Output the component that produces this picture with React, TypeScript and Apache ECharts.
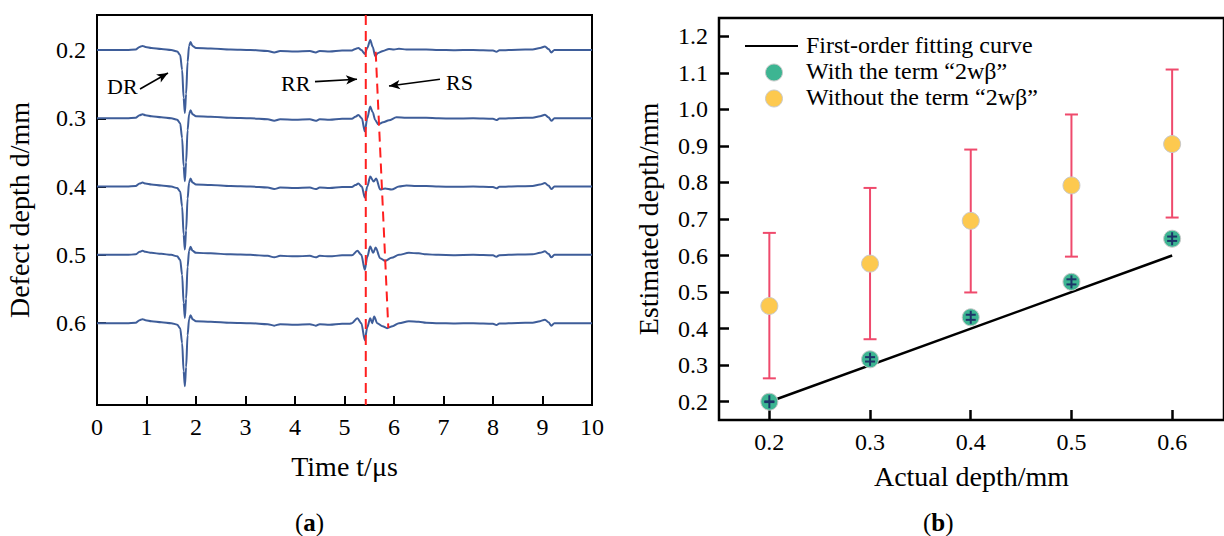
import React, { useEffect, useRef } from "react";
import * as echarts from "echarts";

const FONT = "Liberation Serif, Times New Roman, serif";

// ---------- Panel (a): waveforms ----------
const depths = [0.2, 0.3, 0.4, 0.5, 0.6];
// amplitude in arbitrary units (a.u.), positive = upward; shared direct-wave part
const headT = [0, 0.6, 0.78, 0.86, 0.92, 0.98, 1.1, 1.3, 1.5, 1.62, 1.68, 1.72, 1.75, 1.775, 1.8, 1.83, 1.86, 1.89, 1.93, 2.0, 2.3, 2.7, 3.1, 3.45, 3.58, 3.7, 4.0, 4.3, 4.42, 4.5, 4.7, 4.95, 5.1];
const headA = [0, 0, 0.5, 3, 4, 3, 2, 1, 0, -1.5, -5, -20, -48, -63, -44, -12, 4, 8, 4, 2, 1.5, 0.5, 0, -1, -2.5, -1, -1.5, -1, -2.5, -1, -1.5, -0.5, -0.5];
const tailT = [6.65, 6.9, 7.2, 7.6, 8.0, 8.07, 8.13, 8.5, 8.8, 8.95, 9.05, 9.12, 9.18, 9.24, 9.35, 9.7, 10];
const tailA = [0.5, 0, -0.3, 0, -0.5, -1.8, -0.3, 0.3, 0.5, 2, 3.5, 1, -2.5, 0, 0, 0, 0];
// reflected-wave region, per depth
const mid02T = [5.15, 5.22, 5.28, 5.34, 5.41, 5.46, 5.52, 5.57, 5.62, 5.68, 5.78, 5.9, 6.0, 6.1, 6.25, 6.45];
const mid02A = [-0.5, 1, 2, 0, -4, 2, 10, 3, -6, -3, -1, 1, 0.5, 1.2, 0.5, 0.5];
const mid03T = [5.15, 5.22, 5.28, 5.35, 5.41, 5.46, 5.52, 5.57, 5.62, 5.68, 5.78, 5.9, 6.05, 6.25, 6.45];
const mid03A = [-0.5, 1.5, 3.3, 0, -13, 0, 11.7, 6, -1.7, -6, -4, -2, 1, 0.5, 0.5];
const mid04T = [5.15, 5.22, 5.28, 5.35, 5.41, 5.46, 5.52, 5.59, 5.64, 5.72, 5.82, 5.95, 6.1, 6.25, 6.45];
const mid04A = [-0.5, 1.5, 3, 0, -11, 0, 10, 5, 8, -3, -2, -3, 0, 1, 0.5];
const mid05T = [5.15, 5.26, 5.34, 5.41, 5.46, 5.52, 5.58, 5.63, 5.72, 5.82, 5.95, 6.1, 6.3, 6.5];
const mid05A = [-0.5, 4, 0, -15, -2, 8.3, 2, 7.3, -3.3, -6, -3, 0, 2, 1.5];
const mid06T = [5.15, 5.26, 5.34, 5.41, 5.46, 5.52, 5.56, 5.6, 5.66, 5.77, 5.86, 5.97, 6.1, 6.3, 6.5];
const mid06A = [0, 5, 0, -17, -4, 5, 0, 6.7, 0, -3, -5, -3, 0, 2, 1.5];
const midTs = [mid02T, mid03T, mid04T, mid05T, mid06T];
const midAs = [mid02A, mid03A, mid04A, mid05A, mid06A];
const AMP_TO_MM = 1 / 683;

const timeMin = 0, timeMax = 10;
const depthAxisMin = 0.1488, depthAxisMax = 0.7198;
const depthTicks = [0.2, 0.3, 0.4, 0.5, 0.6];
const rrTime = 5.43;
const rsStart = [5.63, 0.2025];
const rsEnd = [5.885, 0.607];
const arrowDR = [[0.869, 0.2571], [1.434, 0.2337]];
const arrowRR = [[4.404, 0.2464], [5.253, 0.2429]];
const arrowRS = [[6.929, 0.2429], [5.899, 0.2527]];

// ---------- Panel (b): estimation ----------
const actualDepth = [0.2, 0.3, 0.4, 0.5, 0.6];
const withTerm = [0.2, 0.316, 0.431, 0.528, 0.646];
const withTermErr = [0.001, 0.006, 0.007, 0.007, 0.006];
const withoutTerm = [0.462, 0.578, 0.695, 0.792, 0.905];
const withoutTermLow = [0.264, 0.371, 0.499, 0.597, 0.704];
const withoutTermHigh = [0.662, 0.785, 0.89, 0.986, 1.109];
const fitX = [0.2, 0.6];
const fitY = [0.2, 0.6];
const bXTicks = [0.2, 0.3, 0.4, 0.5, 0.6];
const bYTicks = [0.2, 0.3, 0.4, 0.5, 0.6, 0.7, 0.8, 0.9, 1.0, 1.1, 1.2];

const TRACE_COLOR = "#3e5d99";
const GREEN = "#3db592";
const YELLOW = "#fdc94f";
const PINK = "#ef4a6c";
const NAVY = "#1d3568";

export default function App() {
  const ref = useRef<HTMLDivElement>(null);
  useEffect(() => {
    if (!ref.current) return;
    const chart = echarts.init(ref.current, undefined, { renderer: "svg" });

    const traceSeries = depths.map((d, i) => {
      const ts = headT.concat(midTs[i], tailT);
      const as = headA.concat(midAs[i], tailA);
      return {
        type: "line",
        name: "d=" + d,
        xAxisIndex: 0,
        yAxisIndex: 0,
        data: ts.map((t, k) => [t, d - as[k] * AMP_TO_MM]),
        showSymbol: false,
        smooth: 0.3,
        smoothMonotone: "x",
        lineStyle: { color: TRACE_COLOR, width: 2 },
        z: 3,
      };
    });

    const arrowItem = (a: number[][]) => [
      { coord: a[0], symbol: "none" },
      { coord: a[1], symbol: "arrow", symbolSize: [7, 11] },
    ];

    const errRender = (color: string, capHalf: number, stem: number) => (params: any, api: any) => {
      const x = api.value(0);
      const lo = api.value(1);
      const hi = api.value(2);
      const pLo = api.coord([x, lo]);
      const pHi = api.coord([x, hi]);
      const top = Math.min(pHi[1], (pLo[1] + pHi[1]) / 2 - stem);
      const bot = Math.max(pLo[1], (pLo[1] + pHi[1]) / 2 + stem);
      const st = { stroke: color, lineWidth: 2 };
      return {
        type: "group",
        children: [
          { type: "line", shape: { x1: pLo[0], y1: bot, x2: pLo[0], y2: top }, style: st },
          { type: "line", shape: { x1: pHi[0] - capHalf, y1: pHi[1], x2: pHi[0] + capHalf, y2: pHi[1] }, style: st },
          { type: "line", shape: { x1: pLo[0] - capHalf, y1: pLo[1], x2: pLo[0] + capHalf, y2: pLo[1] }, style: st },
        ],
      };
    };

    const axisLabelStyle = { fontFamily: FONT, fontSize: 24, color: "#000" };
    const nameStyle = { fontFamily: FONT, fontSize: 28, color: "#000" };
    const rich = (letter: string) => ({
      rich: {
        p: { fontFamily: FONT, fontSize: 25, fill: "#000" },
        b: { fontFamily: FONT, fontSize: 25, fontWeight: "bold", fill: "#000" },
      },
      text: "{p|(}{b|" + letter + "}{p|)}",
    });

    chart.setOption({
      animation: false,
      backgroundColor: "#fff",
      textStyle: { fontFamily: FONT },
      grid: [
        { left: 97, top: 15, width: 495, height: 390, show: true, borderColor: "#000", borderWidth: 2, backgroundColor: "transparent" },
        { left: 719, top: 18, width: 507, height: 402, show: true, borderColor: "#000", borderWidth: 2.5, backgroundColor: "transparent" },
      ],
      xAxis: [
        {
          gridIndex: 0, type: "value", min: timeMin, max: timeMax, interval: 1,
          name: "Time t/\u03bcs", nameLocation: "middle", nameGap: 47, nameTextStyle: nameStyle,
          axisLine: { show: false },
          axisTick: { show: true, inside: true, length: 9, lineStyle: { color: "#000", width: 2 } },
          axisLabel: { ...axisLabelStyle, margin: 10 },
          splitLine: { show: false },
        },
        {
          gridIndex: 1, type: "value", min: 0.15, max: 0.6515,
          name: "Actual depth/mm", nameLocation: "middle", nameGap: 42, nameTextStyle: nameStyle,
          axisLine: { show: false },
          axisTick: { show: true, inside: true, length: 10, customValues: bXTicks, lineStyle: { color: "#000", width: 2.5 } },
          axisLabel: { ...axisLabelStyle, margin: 10, customValues: bXTicks, formatter: (v: number) => v.toFixed(1) },
          splitLine: { show: false },
        },
      ],
      yAxis: [
        {
          gridIndex: 0, type: "value", inverse: true, min: depthAxisMin, max: depthAxisMax,
          name: "Defect depth d/mm", nameLocation: "middle", nameGap: 64, nameTextStyle: nameStyle,
          axisLine: { show: false },
          axisTick: { show: true, inside: true, length: 9, customValues: depthTicks, lineStyle: { color: "#000", width: 2 } },
          axisLabel: { ...axisLabelStyle, margin: 11, customValues: depthTicks, formatter: (v: number) => v.toFixed(1) },
          splitLine: { show: false },
        },
        {
          gridIndex: 1, type: "value", min: 0.15, max: 1.25,
          name: "Estimated depth/mm", nameLocation: "middle", nameGap: 57, nameTextStyle: nameStyle,
          axisLine: { show: false },
          axisTick: { show: true, inside: true, length: 10, customValues: bYTicks, lineStyle: { color: "#000", width: 2.5 } },
          axisLabel: { ...axisLabelStyle, margin: 11, customValues: bYTicks, formatter: (v: number) => v.toFixed(1) },
          splitLine: { show: false },
        },
      ],
      series: [
        ...traceSeries,
        {
          type: "line", name: "RR", xAxisIndex: 0, yAxisIndex: 0,
          data: [[rrTime, depthAxisMin], [rrTime, depthAxisMax]],
          showSymbol: false,
          lineStyle: { color: "#ff1f1f", width: 2, type: [10, 6] },
          z: 4,
        },
        {
          type: "line", name: "RS", xAxisIndex: 0, yAxisIndex: 0,
          data: [rsStart, rsEnd],
          showSymbol: false,
          lineStyle: { color: "#ff1f1f", width: 2, type: [10, 6] },
          z: 4,
          markLine: {
            silent: true,
            label: { show: false },
            lineStyle: { color: "#000", width: 1.6, type: "solid" },
            data: [arrowItem(arrowDR), arrowItem(arrowRR), arrowItem(arrowRS)],
          },
        },
        {
          type: "line", name: "First-order fitting curve", xAxisIndex: 1, yAxisIndex: 1,
          data: fitX.map((x, i) => [x, fitY[i]]),
          showSymbol: false,
          lineStyle: { color: "#000", width: 2.5 },
          z: 2,
        },
        {
          type: "custom", name: "errWithout", xAxisIndex: 1, yAxisIndex: 1,
          data: actualDepth.map((x, i) => [x, withoutTermLow[i], withoutTermHigh[i]]),
          encode: { x: 0, y: [1, 2] },
          renderItem: errRender(PINK, 6.5, 0),
          z: 3,
        },
        {
          type: "scatter", name: "With the term \u201c2w\u03b2\u201d", xAxisIndex: 1, yAxisIndex: 1,
          data: actualDepth.map((x, i) => [x, withTerm[i]]),
          symbol: "circle", symbolSize: 17,
          itemStyle: { color: GREEN, borderColor: "#c9c9c9", borderWidth: 1, opacity: 1 },
          z: 4,
        },
        {
          type: "custom", name: "errWith", xAxisIndex: 1, yAxisIndex: 1,
          data: actualDepth.map((x, i) => [x, withTerm[i] - withTermErr[i], withTerm[i] + withTermErr[i]]),
          encode: { x: 0, y: [1, 2] },
          renderItem: errRender(NAVY, 5, 6.5),
          z: 5,
        },
        {
          type: "scatter", name: "Without the term \u201c2w\u03b2\u201d", xAxisIndex: 1, yAxisIndex: 1,
          data: actualDepth.map((x, i) => [x, withoutTerm[i]]),
          symbol: "circle", symbolSize: 17,
          itemStyle: { color: YELLOW, borderColor: "#c9c9c9", borderWidth: 1, opacity: 1 },
          z: 6,
        },
      ],
      graphic: [
        { type: "text", left: 107, top: 75, style: { text: "DR", fontFamily: FONT, fontSize: 22, fill: "#000" } },
        { type: "text", left: 281, top: 72, style: { text: "RR", fontFamily: FONT, fontSize: 22, fill: "#000" } },
        { type: "text", left: 446, top: 71, style: { text: "RS", fontFamily: FONT, fontSize: 22, fill: "#000" } },
        { type: "text", left: 295, top: 510, style: rich("a") },
        { type: "text", left: 923, top: 510, style: rich("b") },
        // legend
        { type: "line", shape: { x1: 745, y1: 46, x2: 798, y2: 46 }, style: { stroke: "#000", lineWidth: 2 } },
        { type: "text", left: 806, top: 33, style: { text: "First-order fitting curve", fontFamily: FONT, fontSize: 24, fill: "#000" } },
        { type: "circle", shape: { cx: 774, cy: 72.5, r: 8.5 }, style: { fill: GREEN, stroke: "#c9c9c9", lineWidth: 1 } },
        { type: "text", left: 806, top: 59, style: { text: "With the term \u201c2w\u03b2\u201d", fontFamily: FONT, fontSize: 24, fill: "#000" } },
        { type: "circle", shape: { cx: 774, cy: 98.5, r: 8.5 }, style: { fill: YELLOW, stroke: "#c9c9c9", lineWidth: 1 } },
        { type: "text", left: 806, top: 85, style: { text: "Without the term \u201c2w\u03b2\u201d", fontFamily: FONT, fontSize: 24, fill: "#000" } },
      ],
    });
    return () => chart.dispose();
  }, []);
  return <div ref={ref} style={{ position: "absolute", left: 0, top: 0, width: 1224, height: 536 }} />;
}
